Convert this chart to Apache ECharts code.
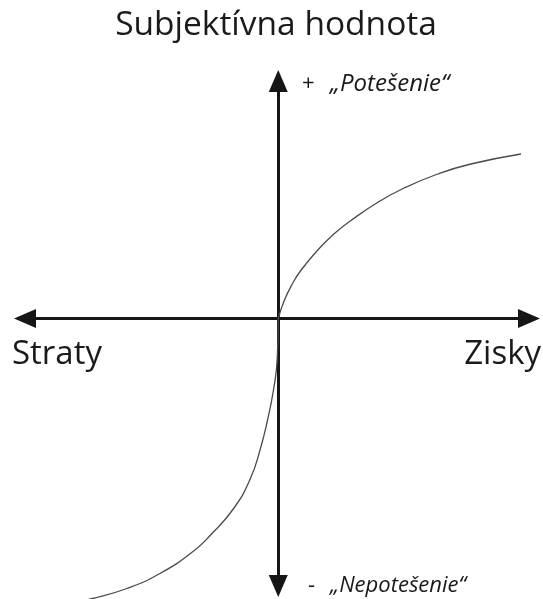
<!DOCTYPE html>
<html>
<head>
<meta charset="utf-8">
<title>Subjektívna hodnota</title>
<script src="https://cdn.jsdelivr.net/npm/echarts@6/dist/echarts.min.js"></script>
<style>
  html, body { margin: 0; padding: 0; background: #fff; }
  #chart { width: 543px; height: 599px; }
</style>
</head>
<body>
<div id="chart"></div>
<script>
// vetva strát (od nuly doľava dole)
var lossX = [0, -0.04, -0.18, -0.44, -0.71, -1.11, -1.78, -2.71, -3.4, -4.72, -6.04, -7.4, -8.6];
var lossY = [0, -1.6, -2.8, -4.12, -5.2, -6.4, -7.6, -8.67, -9.32, -10.2, -10.8, -11.2, -11.44];
// vetva ziskov (od nuly doprava hore)
var gainX = [0, 0.24, 0.57, 0.9, 1.56, 2.24, 2.9, 3.96, 5.0, 6.36, 7.68, 9.68];
var gainY = [0, 0.72, 1.4, 1.92, 2.72, 3.4, 3.92, 4.64, 5.21, 5.78, 6.18, 6.58];

// popisy
var titleText = "Subjektívna hodnota";
var lossLabel = "Straty";
var gainLabel = "Zisky";
var posSign = "+";
var posLabel = "„Potešenie“";
var negSign = "-";
var negLabel = "„Nepotešenie“";

var chart = echarts.init(document.getElementById("chart"));

var axisCommon = {
  type: "value",
  axisLine: {
    onZero: true,
    symbol: ["triangle", "triangle"],
    symbolSize: [19, 22],
    lineStyle: { color: "#161616", width: 3 }
  },
  axisTick: { show: false },
  axisLabel: { show: false },
  splitLine: { show: false }
};

function pairs(xs, ys) {
  return xs.map(function(x, i) {
    return [x, ys[i]];
  });
}

function branch(xs, ys) {
  return {
    type: "line",
    data: pairs(xs, ys),
    smooth: 0.5,
    showSymbol: false,
    clip: false,
    lineStyle: { color: "#4a4a4a", width: 1.3 }
  };
}

function label(text, x, y, font, align) {
  return {
    type: "text",
    x: x,
    y: y,
    style: {
      text: text,
      font: font,
      fill: "#1a1a1a",
      align: align || "left",
      verticalAlign: "middle"
    }
  };
}

var option = {
  backgroundColor: "#fff",
  animation: false,
  grid: { left: 25, right: 14, top: 81, bottom: 13 },
  xAxis: Object.assign({}, axisCommon, { min: -10.1, max: 10 }),
  yAxis: Object.assign({}, axisCommon, { min: -10.7, max: 9.5 }),
  graphic: [
    label(titleText, 276, 25, "33.5px 'Open Sans'", "center"),
    label(lossLabel, 12, 355, "33px 'Open Sans'"),
    label(gainLabel, 541, 355, "33px 'Open Sans'", "right"),
    label(posSign, 302, 84, "22px 'Open Sans'"),
    label(posLabel, 330, 84, "italic 24px 'Open Sans'"),
    label(negSign, 308, 586, "22px 'Open Sans'"),
    label(negLabel, 330, 586, "italic 22px 'Open Sans'")
  ],
  series: [branch(lossX, lossY), branch(gainX, gainY)]
};

chart.setOption(option);
</script>
</body>
</html>
